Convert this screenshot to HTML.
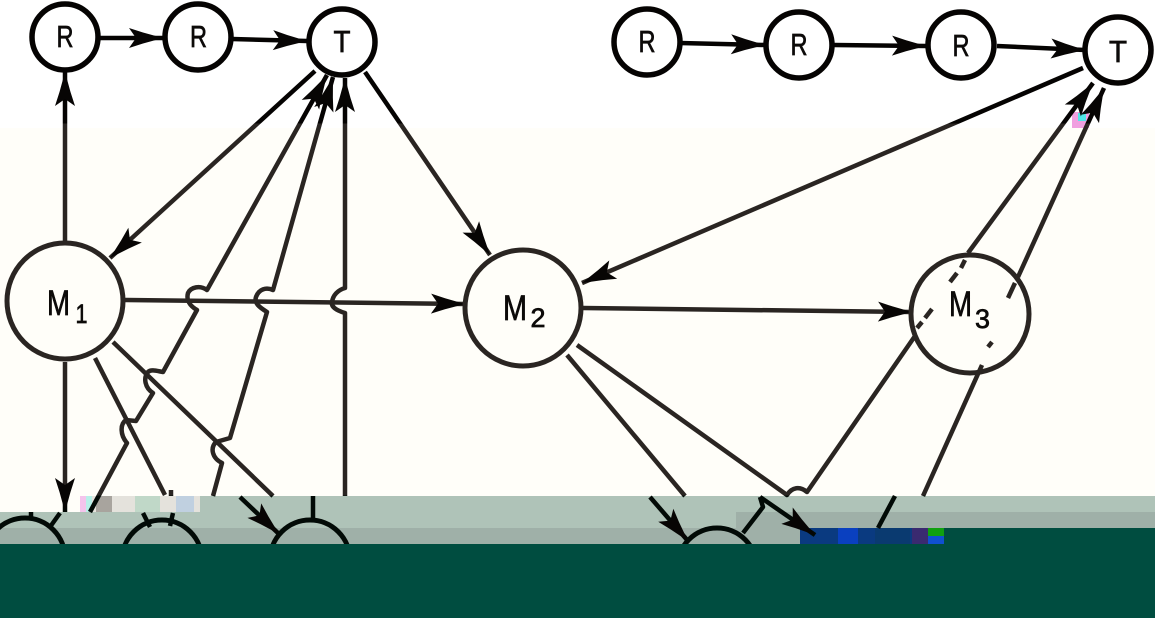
<!DOCTYPE html>
<html><head><meta charset="utf-8"><style>
html,body{margin:0;padding:0;width:1155px;height:618px;overflow:hidden;background:#fff}
svg{display:block}
text{font-family:"Liberation Sans",sans-serif;fill:#0c0a09;stroke:#0c0a09;stroke-width:.7;text-anchor:middle}
</style></head><body>
<svg width="1155" height="618" viewBox="0 0 1155 618" xmlns="http://www.w3.org/2000/svg">
<defs>
<linearGradient id="ink" gradientUnits="userSpaceOnUse" x1="0" y1="0" x2="0" y2="618">
<stop offset="0.2" stop-color="#050302"/><stop offset="0.2" stop-color="#2a2522"/>
<stop offset="0.802" stop-color="#2a2522"/><stop offset="0.802" stop-color="#020a06"/>
</linearGradient>
<marker id="a" markerUnits="userSpaceOnUse" markerWidth="40" markerHeight="30" refX="36" refY="15" orient="auto">
<path d="M2,5 L16,9.5 L36,15 L16,20.5 L2,25 L9,15 Z" fill="#070504"/>
</marker>
</defs>
<rect width="1155" height="128" fill="#fff"/>
<rect y="128" width="1155" height="368" fill="#fffef9"/>
<rect y="496" width="1155" height="16" fill="#afc3b8"/>
<rect y="496" width="80" height="16" fill="#fffef9"/>
<rect x="80" y="496" width="120" height="16" fill="#e4e2dc"/>
<rect x="96" y="496" width="16" height="16" fill="#a8a49e"/>
<rect x="80" y="496" width="6" height="16" fill="#f4c4ec"/>
<rect x="86" y="496" width="6" height="16" fill="#b8f0e8"/>
<rect x="135" y="496" width="25" height="16" fill="#c0d8c8"/>
<rect x="176" y="496" width="18" height="16" fill="#c0d0e0"/>
<rect y="512" width="1155" height="16" fill="#afc3b8"/>
<rect x="736" y="512" width="419" height="16" fill="#9fb0a8"/>
<rect y="528" width="800" height="16" fill="#9fb0a8"/>
<rect y="544" width="1155" height="74" fill="#004d40"/>
<rect x="800" y="528" width="355" height="16" fill="#004d40"/>
<rect x="800" y="528" width="144" height="16" fill="#0a3a80"/>
<rect x="838" y="528" width="20" height="16" fill="#0a40c0"/>
<rect x="875" y="528" width="35" height="16" fill="#0a3a70"/>
<rect x="912" y="528" width="16" height="16" fill="#3a2a70"/>
<rect x="928" y="528" width="16" height="8" fill="#10a010"/>
<rect x="928" y="536" width="16" height="8" fill="#1050d0"/>
<rect x="1072" y="112" width="17" height="16" fill="#f0a0e0"/>
<rect x="1078" y="113" width="8" height="8" fill="#50e8e8"/>
<rect x="920" y="603" width="8" height="5" fill="#40d0d0" opacity=".7"/>

<g fill="none" stroke="url(#ink)" stroke-width="4.5" stroke-linejoin="round" stroke-linecap="butt">
<path d="M98,38 L163,38" marker-end="url(#a)"/>
<path d="M232,39 L307,41" marker-end="url(#a)"/>
<path d="M65,243 L65,72" marker-end="url(#a)"/>
<path d="M315,71 L110,258" marker-end="url(#a)"/>
<path d="M365,72 L490,255" marker-end="url(#a)"/>
<path d="M124,300 L465,304" marker-end="url(#a)"/>
<path d="M345,496 L345,313 C335,310 331,306 332,302 C333,295 338,290 345,288 L345,78" marker-end="url(#a)"/>
<path d="M90,512 L127,443 C120,435 120,424 126,420 L136,421 L153,393 C145,388 143,378 148,372 C151,369 157,371 163,372 L197,310 C190,306 186,300 188,293 C191,287 200,285 207,290 L327,75" marker-end="url(#a)"/>
<path d="M213,496 L222,463 C212,458 210,448 216,442 L230,438 L267,312 C259,307 254,303 256,297 C259,289 266,287 273,290 L333,77" marker-end="url(#a)"/>
<path d="M65,362 L65,512" marker-end="url(#a)"/>
<path d="M95,358 L165,495"/>
<path d="M113,342 L273,496"/>
<path d="M143,513 L150,527"/>
<path d="M173,513 L170,526"/>
<path d="M171,490 L171,496"/>
<path d="M60,513 L50,527"/>
<path d="M31,512 L31,517"/>
<path d="M240,497 L279,534" marker-end="url(#a)"/>
<path d="M313,496 L313,519"/>
<path d="M567,355 L685,496"/>
<path d="M577,345 L787,495 C792,487 800,486 807,492 L915,336"/>
<path d="M583,308 L912,312" marker-end="url(#a)"/>
<path d="M1083,68 L582,283" marker-end="url(#a)"/>
<path d="M650,497 L688,541" marker-end="url(#a)"/>
<path d="M760,497 L815,535" marker-end="url(#a)"/>
<path d="M760,497 L763,507 L743,533"/>
<path d="M895,496 L878,528"/>
<path d="M923,496 L982,365"/>
<path d="M988,347 L992,342"/>
<path d="M917,328 L922,322"/>
<path d="M925,318 L932,309"/>
<path d="M950,282 L957,273"/>
<path d="M961,268 L965,260"/>
<path d="M968,253 L1093,83" marker-end="url(#a)"/>
<path d="M1008,298 L1015,283"/>
<path d="M1018,277 L1104,88" marker-end="url(#a)"/>
<path d="M680,43 L765,45" marker-end="url(#a)"/>
<path d="M834,45 L926,46" marker-end="url(#a)"/>
<path d="M997,46 L1085,50" marker-end="url(#a)"/>
</g>

<g fill="none" stroke="#050302" stroke-width="5.5">
<circle cx="65" cy="37" r="33"/>
<circle cx="198" cy="37" r="33"/>
<circle cx="342" cy="42" r="33"/>
<circle cx="647" cy="42" r="33"/>
<circle cx="799" cy="45" r="33"/>
<circle cx="961" cy="45" r="33"/>
<circle cx="1118" cy="50" r="33"/>
</g>
<g fill="none" stroke="#2a2522" stroke-width="5">
<circle cx="65" cy="301" r="58"/>
<circle cx="523" cy="308" r="58"/>
<circle cx="970" cy="314" r="59"/>
</g>
<g fill="none" stroke="#020a06" stroke-width="5">
<circle cx="25" cy="558" r="40"/>
<circle cx="162" cy="560" r="40"/>
<circle cx="310" cy="560" r="40"/>
<circle cx="717" cy="568" r="40"/>
</g>
<rect y="544" width="1155" height="74" fill="#004d40"/>

<g font-size="31">
<text x="65" y="47" textLength="17" lengthAdjust="spacingAndGlyphs">R</text>
<text x="198.5" y="47" textLength="17" lengthAdjust="spacingAndGlyphs">R</text>
<text x="342" y="52" textLength="17" lengthAdjust="spacingAndGlyphs">T</text>
<text x="647" y="52" textLength="17" lengthAdjust="spacingAndGlyphs">R</text>
<text x="799" y="55" textLength="17" lengthAdjust="spacingAndGlyphs">R</text>
<text x="961" y="56" textLength="17" lengthAdjust="spacingAndGlyphs">R</text>
<text x="1118" y="62" textLength="18" lengthAdjust="spacingAndGlyphs">T</text>
</g>
<g font-size="35">
<text x="58.5" y="315" textLength="23" lengthAdjust="spacingAndGlyphs">M</text>
<text x="515" y="320" textLength="24" lengthAdjust="spacingAndGlyphs">M</text>
<text x="960.5" y="316" textLength="23" lengthAdjust="spacingAndGlyphs">M</text>
</g>
<g font-size="27">
<text x="81.5" y="323" textLength="12" lengthAdjust="spacingAndGlyphs">1</text>
<text x="538" y="327" textLength="15" lengthAdjust="spacingAndGlyphs">2</text>
<text x="982.5" y="328" textLength="15" lengthAdjust="spacingAndGlyphs">3</text>
</g>
</svg>
</body></html>
